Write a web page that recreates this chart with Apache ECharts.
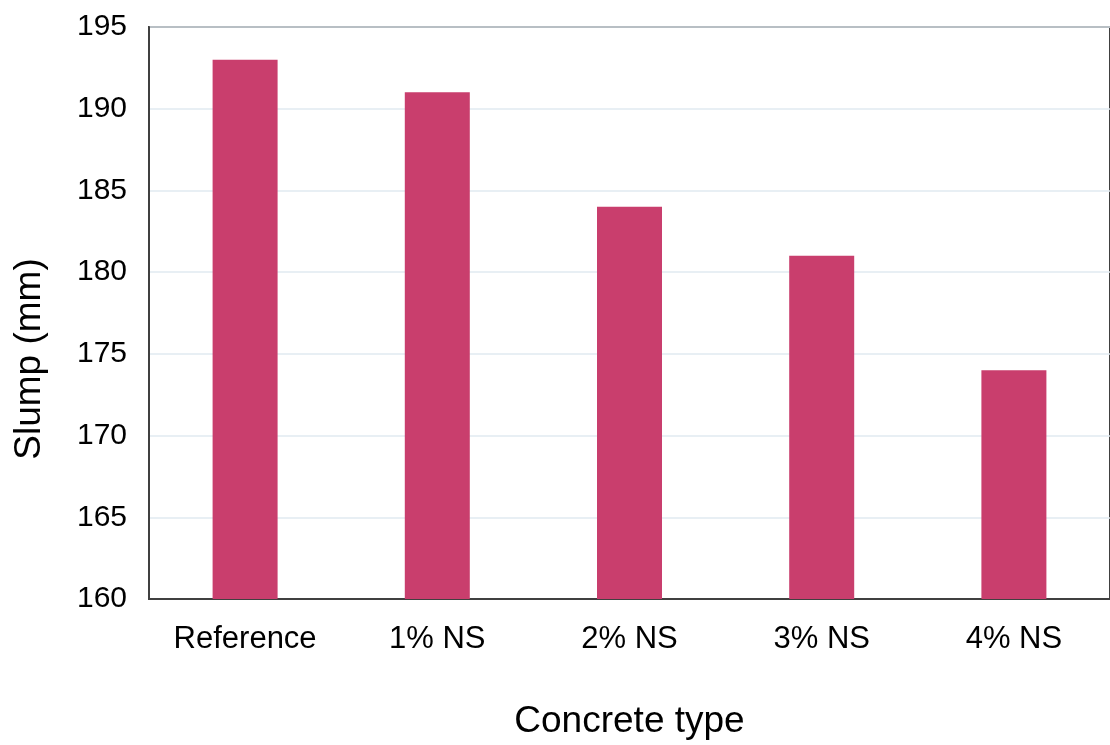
<!DOCTYPE html>
<html>
<head>
<meta charset="utf-8">
<script src="https://cdn.jsdelivr.net/npm/echarts@6/dist/echarts.min.js"></script>
<style>
html,body{margin:0;padding:0;background:#fff;overflow:hidden;}
#chart{width:1110px;height:745px;}
</style>
</head>
<body>
<div id="chart"></div>
<script>
const categories = ["Reference", "1% NS", "2% NS", "3% NS", "4% NS"];
const slump = [193, 191, 184, 181, 174];
const yTicks = { min: 160, max: 195, step: 5 };

const FONT = 'Liberation Sans, Arial, sans-serif';
const chart = echarts.init(document.getElementById('chart'), null, { width: 1110, height: 745 });
chart.setOption({
  animation: false,
  backgroundColor: '#ffffff',
  textStyle: { fontFamily: FONT },
  grid: {
    left: 149, top: 27, width: 966, height: 576,
    show: true, borderColor: '#404040', borderWidth: 2,
    containLabel: false
  },
  xAxis: {
    type: 'category',
    data: categories,
    name: 'Concrete type',
    nameLocation: 'middle',
    nameGap: 104,
    nameTextStyle: { fontSize: 37, color: '#000', fontFamily: FONT },
    axisLine: { show: true, lineStyle: { color: '#404040', width: 2 } },
    axisTick: { show: false },
    axisLabel: { fontSize: 31, color: '#000', margin: 25, fontFamily: FONT }
  },
  yAxis: {
    type: 'value',
    min: yTicks.min, max: yTicks.max, interval: yTicks.step,
    name: 'Slump (mm)',
    nameLocation: 'middle',
    nameGap: 101,
    nameTextStyle: { fontSize: 37, color: '#000', fontFamily: FONT, padding: [0, 92, 0, 0] },
    axisLine: { show: true, lineStyle: { color: '#404040', width: 2 } },
    axisTick: { show: false },
    axisLabel: { fontSize: 30, color: '#000', margin: 22, fontFamily: FONT },
    splitLine: { show: true, lineStyle: { color: '#E1EAF0', width: 1.5 } }
  },
  series: [{
    type: 'bar',
    data: slump,
    barWidth: 65,
    itemStyle: { color: '#C93E6D' }
  }]
});
</script>
</body>
</html>
